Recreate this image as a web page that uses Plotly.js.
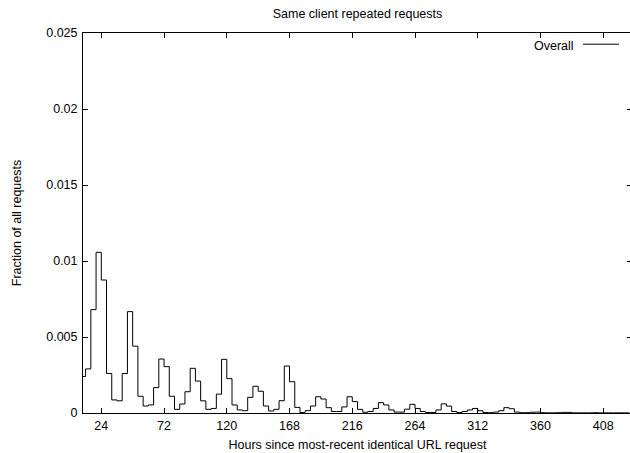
<!DOCTYPE html>
<html>
<head>
<meta charset="utf-8">
<script src="https://cdn.plot.ly/plotly-3.0.1.min.js"></script>
<style>
html,body{margin:0;padding:0;overflow:hidden;background:#fff;}
#chart{width:634px;height:453px;}
</style>
</head>
<body>
<div id="chart"></div>
<script>
// Bin left edges (hours) and fraction of all requests per 4-hour bin
const hours = [8,12,16,20,24,28,32,36,40,44,48,52,56,60,64,68,72,76,80,84,88,92,96,100,
  104,108,112,116,120,124,128,132,136,140,144,148,152,156,160,164,168,172,176,180,184,188,
  192,196,200,204,208,212,216,220,224,228,232,236,240,244,248,252,256,260,264,268,272,276,
  280,284,288,292,296,300,304,308,312,316,320,324,328,332,336,340,344,348,352,356,360,364,
  368,372,376,380,384,388,392,396,400,404,408,412,416,420,424,428];
const fraction = [0.0024,0.0029,0.0068,0.01057,0.00875,0.0026,0.00086,0.0008,0.0026,0.00667,
  0.0044,0.0011,0.00046,0.00053,0.00167,0.00355,0.00305,0.0011,0.00024,0.00059,0.0014,0.00294,
  0.0021,0.0008,0.00024,0.0003,0.00124,0.00353,0.00226,0.00053,0.0002,0.00015,0.00103,0.00176,
  0.00143,0.00046,0.00013,0.00024,0.00081,0.00309,0.00206,0.00037,0.00003,0.00015,0.00046,
  0.00107,0.00092,0.00035,0.0001,0.0001,0.0004,0.00107,0.00075,0.00024,0.00005,0.0001,0.0003,
  0.00068,0.00053,0.0002,0.00006,0.00006,0.00025,0.00057,0.0003,0.0001,0.00003,0.00003,0.0002,
  0.0006,0.00045,0.0001,0.00003,0.0001,0.0002,0.0003,0.00015,0.00003,0.00002,0.00006,0.00015,
  0.00035,0.00028,0.00006,0.00002,0.00002,0.00005,0.00006,0.00002,0.00001,0.00001,0.00002,
  0.00004,0.00004,0.00001,0.00001,0.00001,0.00001,0.00002,0.00001,0.00001,0.00001,0.00001,
  0.00001,0.00001,0.00001];
const xTickVals = [24,72,120,168,216,264,312,360,408];
const xTickText = ["24","72","120","168","216","264","312","360","408"];
const yTickVals = [0,0.005,0.01,0.015,0.02,0.025];
const yTickText = ["0","0.005","0.01","0.015","0.02","0.025"];
const seriesName = "Overall";

const font = {family: "'Liberation Sans', Arial, Helvetica, sans-serif", size: 12.5, color: "#000"};

const trace = {
  x: hours, y: fraction, type: "scatter", mode: "lines", name: seriesName,
  line: {shape: "hv", color: "#000", width: 1}, showlegend: false, hoverinfo: "skip"
};

const layout = {
  width: 634, height: 453,
  margin: {l: 83, r: 2, t: 33, b: 40, pad: 0},
  paper_bgcolor: "#fff", plot_bgcolor: "#fff",
  font: font,
  title: {text: "Same client repeated requests", font: font, x: 0.5, xref: "paper", y: 0.97, yanchor: "middle"},
  xaxis: {
    range: [10, 430], tickvals: xTickVals, ticktext: xTickText,
    ticks: "inside", ticklen: 5, tickcolor: "#000", tickwidth: 1,
    showline: true, linecolor: "#000", linewidth: 1, mirror: "ticks",
    showgrid: false, zeroline: false, tickfont: font, ticklabelstandoff: 1,
    title: {text: "Hours since most-recent identical URL request", font: font, standoff: 8}
  },
  yaxis: {
    range: [0, 0.025], tickvals: yTickVals, ticktext: yTickText,
    ticks: "inside", ticklen: 5, tickcolor: "#000", tickwidth: 1,
    showline: true, linecolor: "#000", linewidth: 1, mirror: "ticks",
    showgrid: false, zeroline: false, tickfont: font, ticklabelstandoff: 2,
    title: {text: "Fraction of all requests", font: font, standoff: 21}
  },
  annotations: [{
    text: seriesName, xref: "paper", yref: "paper", x: 0.898, y: 0.966,
    xanchor: "right", yanchor: "middle", showarrow: false, font: font
  }],
  shapes: [{
    type: "line", xref: "paper", yref: "paper", x0: 0.9107, x1: 0.9763, y0: 0.9705, y1: 0.9705,
    line: {color: "#000", width: 1}
  }],
  showlegend: false
};

Plotly.newPlot("chart", [trace], layout, {staticPlot: true, displayModeBar: false});
</script>
</body>
</html>
